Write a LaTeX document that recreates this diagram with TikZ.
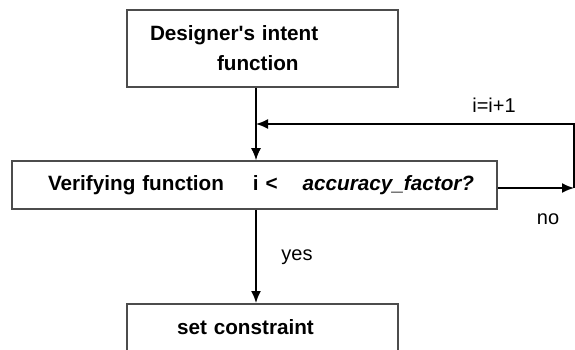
\documentclass[tikz,border=0pt]{standalone}
\usepackage{fontspec}
\setmainfont{Liberation Sans}
\usepackage{tikz}
\usetikzlibrary{arrows.meta}

\begin{document}
\begin{tikzpicture}[x=1pt,y=-1pt,
            box/.style = {draw=black!70,
                        line width=1.6pt,
                        rectangle,
                        align=left,
                        font=\fontsize{20.7}{30}\selectfont\bfseries},
            flow/.style = {line width=1.6pt,
                        -{Latex[length=12pt,width=10pt]}},
            tag/.style = {font=\fontsize{20}{24}\selectfont}]
            \clip (0,0) rectangle (575,349);
            % Designer's intent
            \node[box, inner xsep=23pt, text width=225pt, minimum height=77pt]
                (intent) at (262.5,48.5) {Designer\textquotesingle s intent\\\hspace*{67pt}function};
            % Verifying function
            \node[box, inner xsep=36pt, text width=413pt, minimum height=48pt]
                (verify) at (254.5,185) {\mbox{Verifying function\hspace{29pt}i <\hspace{25pt}\textit{accuracy\_factor?}}};
            % Set constraint
            \node[box, anchor=north, inner xsep=50pt, inner ysep=8pt, text width=171pt,
                text height=22.5pt, text depth=40pt]
                (fix) at (262.5,303) {set constraint};
            % Loop corners
            \coordinate (join) at (256,124);
            \coordinate (turn) at (574,188);
            % Connectors
            \draw[flow] (join |- intent.south) -- (join |- verify.north);
            \draw[flow] (verify.east |- turn) -- (turn);
            \draw[flow] (turn) -- (turn |- join) -- (join);
            \draw[flow] (join |- verify.south) -- (join |- fix.north);
            % Labels
            \node[tag] (inc) at (494,105) {i=i+1};
            \node[tag] (no) at (548,219) {no};
            \node[tag] (yes) at (297,257) {yes};
        \end{tikzpicture}
\end{document}
